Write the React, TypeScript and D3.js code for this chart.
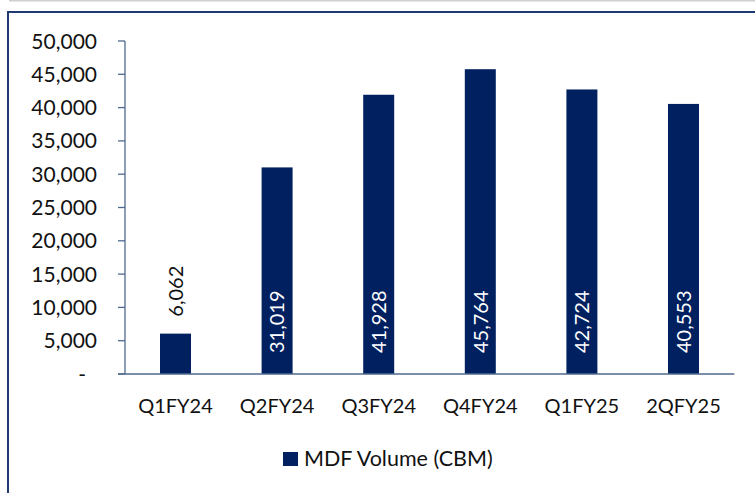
import React from "react";
import * as d3 from "d3";

const categories = ["Q1FY24", "Q2FY24", "Q3FY24", "Q4FY24", "Q1FY25", "2QFY25"];
const values = [6062, 31019, 41928, 45764, 42724, 40553];
const yTicks = [0, 5000, 10000, 15000, 20000, 25000, 30000, 35000, 40000, 45000, 50000];
const legendLabel = "MDF Volume (CBM)";

const W = 755;
const H = 493;
const FONT = "Lato, 'Open Sans', sans-serif";
const BAR = "#002060";
const AXIS = "#4f6a8f";

export default function App() {
  const x = d3.scaleBand<string>().domain(categories).range([124.7, 734.3]).paddingInner(0.695).paddingOuter(0.3475);
  const y = d3.scaleLinear().domain([0, 50000]).range([374, 41]);
  const fmt = d3.format(",");

  return (
    <svg width={W} height={H} style={{ position: "absolute", left: 0, top: 0 }}>
      <rect x={0} y={0} width={W} height={H} fill="#fff" />
      <line x1={9} x2={W} y1={0.5} y2={0.5} stroke="#d0d0d0" strokeWidth={2} />
      <rect x={8} y={12} width={W + 10} height={H + 10} fill="none" stroke="#1f3a70" strokeWidth={2} />

      {/* y axis */}
      <line x1={125} x2={125} y1={y(50000)} y2={y(0)} stroke={AXIS} strokeWidth={1.3} />
      {yTicks.map((t) => (
        <g key={t}>
          <line x1={118} x2={125} y1={y(t)} y2={y(t)} stroke={AXIS} strokeWidth={1.3} />
          <text
            x={t === 0 ? 86 : 97}
            y={y(t)}
            dy="0.36em"
            textAnchor="end"
            fontFamily={FONT}
            fontSize={21}
            fill="#111"
          >
            {t === 0 ? "-" : fmt(t)}
          </text>
        </g>
      ))}

      {/* bars */}
      {categories.map((c, i) => {
        const v = values[i];
        const bx = x(c)!;
        const bw = x.bandwidth();
        const cx = bx + bw / 2;
        const inside = y(v) < 300;
        return (
          <g key={c}>
            <rect x={bx} y={y(v)} width={bw} height={y(0) - y(v)} fill={BAR} />
            <text
              transform={`translate(${cx},${inside ? y(0) - 21 : y(v) - 17}) rotate(-90)`}
              dy="0.36em"
              textAnchor="start"
              fontFamily={FONT}
              fontSize={20}
              fill={inside ? "#fff" : "#111"}
            >
              {fmt(v)}
            </text>
            <text x={cx} y={413} textAnchor="middle" fontFamily={FONT} fontSize={20} fill="#111">
              {c}
            </text>
          </g>
        );
      })}

      {/* x axis */}
      <line x1={118} x2={734.3} y1={y(0)} y2={y(0)} stroke={AXIS} strokeWidth={1.5} />

      {/* legend */}
      <rect x={283} y={452} width={15} height={14} fill={BAR} />
      <text x={304} y={466} fontFamily={FONT} fontSize={21.5} fill="#111">
        {legendLabel}
      </text>
    </svg>
  );
}
